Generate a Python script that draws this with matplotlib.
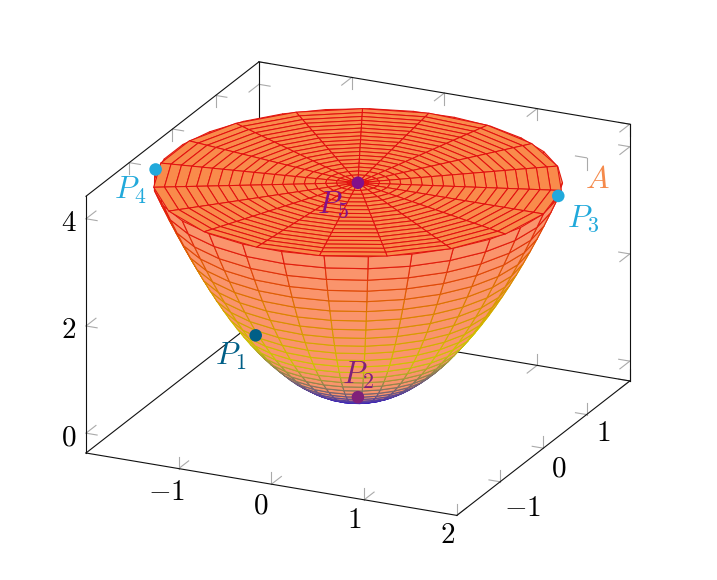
import numpy as np
import matplotlib
matplotlib.use("Agg")
import matplotlib.pyplot as plt
from matplotlib.colors import LinearSegmentedColormap
from mpl_toolkits.mplot3d import proj3d
from mpl_toolkits.mplot3d.art3d import Poly3DCollection

plt.rcParams['mathtext.fontset'] = 'cm'
plt.rcParams['font.family'] = ['DejaVu Serif']

# Data -----------------------------------------------------------------
wall_radii = [0, .069, .138, .207, .276, .345, .414, .483, .552, .621, .690, .759, .828, .897, .966,
              1.034, 1.103, 1.172, 1.241, 1.310, 1.379, 1.448, 1.517, 1.586, 1.655, 1.724, 1.793,
              1.862, 1.931, 2]
wall_heights = [0, .005, .019, .043, .076, .119, .171, .233, .305, .386, .476, .576, .686, .805, .933,
                1.070, 1.217, 1.374, 1.540, 1.716, 1.902, 2.097, 2.301, 2.515, 2.739, 2.972, 3.215,
                3.467, 3.729, 4]
wall_angles = [0, 12.4, 24.8, 37.2, 49.7, 62.1, 74.5, 86.9, 99.3, 111.7, 124.1, 136.6, 149.0, 161.4,
               173.8, 186.2, 198.6, 211.0, 223.4, 235.9, 248.3, 260.7, 273.1, 285.5, 297.9, 310.3,
               322.8, 335.2, 347.6, 360]
disc_radii = [0, .105, .211, .316, .421, .526, .632, .737, .842, .947,
              1.053, 1.158, 1.263, 1.368, 1.474, 1.579, 1.684, 1.789, 1.895, 2]
disc_angles = [0, 18.9, 37.9, 56.8, 75.8, 94.7, 113.7, 132.6, 151.6, 170.5,
               189.5, 208.4, 227.4, 246.3, 265.3, 284.2, 303.2, 322.1, 341.1, 360]
disc_height = 4
x_ticks = [-1, 0, 1, 2]
y_ticks = [-1, 0, 1, 2]
z_ticks = [0, 2, 4]
x_labels = ['$-1$', '$0$', '$1$', '$2$']
y_labels = ['$-1$', '$0$', '$1$', '']
z_labels = ['$0$', '$2$', '$4$']
point_names = ['$P_1$', '$P_2$', '$P_3$', '$P_4$', '$P_5$']
point_x = [-1, 0, 2, -2, 0]
point_y = [-.22, 0, .345, -.39, 0]
point_z = [1.0, 0, 4.12, 3.91, 4]

# Style ----------------------------------------------------------------
xlim, ylim, zlim = (-2, 2), (-2, 2), (-.37, 4.42)
point_colors = ['#005f87', '#80207a', '#21a9db', '#21a9db', '#82108a']
label_colors = ['#005f87', '#80207a', '#21a9db', '#21a9db', '#82108a']
hot = LinearSegmentedColormap.from_list('hot4', ['#2a10d0', '#cfc800', '#dd8000', '#e21010'])
W, H = 717, 580

fig = plt.figure(figsize=(W / 100, H / 100), dpi=100)
ax = fig.add_axes([0, 0, 1, W / H], projection='3d', proj_type='ortho',
                  computed_zorder=False)
ax.set_xlim(*xlim, view_margin=0)
ax.set_ylim(*ylim, view_margin=0)
ax.set_zlim(*zlim, view_margin=0)
ax.view_init(elev=21.2, azim=-65.05)
ax.patch.set_alpha(0)


def grid(radii, angles):
    r, t = np.array(radii), np.radians(angles)
    R, T = np.meshgrid(r, t, indexing='ij')
    return R * np.cos(T), R * np.sin(T)


def quads(X, Y, Z):
    out, zs = [], []
    for i in range(X.shape[0] - 1):
        for j in range(X.shape[1] - 1):
            idx = [(i, j), (i + 1, j), (i + 1, j + 1), (i, j + 1)]
            out.append([(X[a], Y[a], Z[a]) for a in idx])
            zs.append(np.mean([Z[a] for a in idx]))
    return out, np.array(zs)


Xw, Yw = grid(wall_radii, wall_angles)
Zw = np.repeat(np.array(wall_heights)[:, None], len(wall_angles), axis=1)
wq, wz = quads(Xw, Yw, Zw)
wall = Poly3DCollection(wq, facecolors='#fa946c', edgecolors=hot(wz / disc_height),
                        linewidths=0.8, zorder=5, zsort='average')
ax.add_collection3d(wall)

Xd, Yd = grid(disc_radii, disc_angles)
dq, dz = quads(Xd, Yd, np.full_like(Xd, disc_height))
disc = Poly3DCollection(dq, facecolors='#f98b4b', edgecolors=hot(dz / disc_height),
                        linewidths=0.75, zorder=6, zsort='average')
ax.add_collection3d(disc)

# box ------------------------------------------------------------------
x0, x1 = xlim
y0, y1 = ylim
z0, z1 = zlim
edges = [((x0, y0, z0), (x1, y0, z0)), ((x1, y0, z0), (x1, y1, z0)),
         ((x1, y1, z0), (x1, y1, z1)), ((x1, y1, z1), (x0, y1, z1)),
         ((x0, y1, z1), (x0, y0, z1)), ((x0, y0, z1), (x0, y0, z0)),
         ((x0, y0, z0), (x0, y1, z0)), ((x0, y1, z0), (x1, y1, z0)),
         ((x0, y1, z0), (x0, y1, z1))]
for a, b in edges:
    ax.plot(*zip(a, b), color='#111111', lw=0.8, zorder=2)

dx, dy, dz_ = .12, .23, .22
tick_c = '#aaaaaa'


def stroke(p, d):
    ax.plot([p[0], p[0] + d[0]], [p[1], p[1] + d[1]], [p[2], p[2] + d[2]],
            color=tick_c, lw=0.8, zorder=1)


for v in x_ticks:
    for yy, zz, sy, sz in [(y0, z0, 1, 1), (y1, z1, -1, -1), (y1, z0, -1, 1)]:
        stroke((v, yy, zz), (0, sy * dy, 0))
        stroke((v, yy, zz), (0, 0, sz * dz_))
for v in y_ticks:
    for xx, zz, sx, sz in [(x0, z1, 1, -1), (x1, z0, -1, 1), (x1, z1, -1, -1)]:
        stroke((xx, v, zz), (sx * dx, 0, 0))
        stroke((xx, v, zz), (0, 0, sz * dz_))
for v in z_ticks:
    for xx, yy, sx, sy in [(x0, y0, 1, 1), (x0, y1, 1, -1), (x1, y1, -1, -1)]:
        stroke((xx, yy, v), (sx * dx, 0, 0))
        stroke((xx, yy, v), (0, sy * dy, 0))

# native axes: panes and axis lines hidden --------------------------------
ax.grid(False)
for axis, ticks in [(ax.xaxis, x_ticks), (ax.yaxis, y_ticks), (ax.zaxis, z_ticks)]:
    axis.set_ticks(ticks)
    axis.set_ticklabels([''] * len(ticks))
    axis.set_pane_color((1, 1, 1, 0))
    axis.pane.set_edgecolor((1, 1, 1, 0))
    axis.line.set_color((1, 1, 1, 0))
    axis._axinfo['tick']['inward_factor'] = 0
    axis._axinfo['tick']['outward_factor'] = 0
    axis.set_tick_params(width=0)

# points ------------------------------------------------------------------
ax.scatter(point_x, point_y, point_z, s=82, c=point_colors, depthshade=False,
           linewidths=0, zorder=10)

# align the axis box with the reference -----------------------------------
box = np.array([409.5, 410.5, 275.7])
zoom = 1.0
ax.set_box_aspect(box, zoom=zoom)


def pixel(p):
    M = ax.get_proj()
    u, v, _ = proj3d.proj_transform(p[0], p[1], p[2], M)
    return ax.transData.transform((u, v))


fig.canvas.draw()
A, B = (x0, y0, z0), (x1, y1, z1)
target_a = np.array([86.0, H - 453.0])
target_b = np.array([630.0, H - 124.5])
pa, pb = pixel(A), pixel(B)
zoom *= np.linalg.norm(target_b - target_a) / np.linalg.norm(pb - pa)
ax.set_box_aspect(box, zoom=zoom)
fig.canvas.draw()
shift = target_a - pixel(A)
pos = ax.get_position(original=True)
ax.set_position([pos.x0 + shift[0] / W, pos.y0 + shift[1] / H, pos.width, pos.height])
fig.canvas.draw()


def tick_label(p, s, off):
    q = pixel(p) + np.array(off)
    fig.text(q[0] / W, q[1] / H, s, fontsize=21, color='black', ha='center', va='center')


x_offs = [(-12, -23.4), (-10.5, -21), (-10, -20), (-9, -19.6)]
y_offs = [(22, -26), (15.6, -20), (16.3, -18.4), (0, 0)]
for v, s, o in zip(x_ticks, x_labels, x_offs):
    tick_label((v, y0, z0), s, o)
for v, s, o in zip(y_ticks, y_labels, y_offs):
    if s:
        tick_label((x1, v, z0), s, o)
for v, s in zip(z_ticks, z_labels):
    tick_label((x0, y0, v), s, (-17, -4))

label_px = [(231, 356), (358, 375), (583, 219), (130, 190), (333, 205)]
for name, c, (px, py) in zip(point_names, label_colors, label_px):
    fig.text(px / W, 1 - py / H, name, color=c, fontsize=22.5, ha='center', va='center', zorder=20)
fig.text(597 / W, 1 - 179 / H, '$A$', color='#f58a4b', fontsize=22.5, ha='center', va='center', zorder=20)

fig.savefig('out.png', dpi=100)
